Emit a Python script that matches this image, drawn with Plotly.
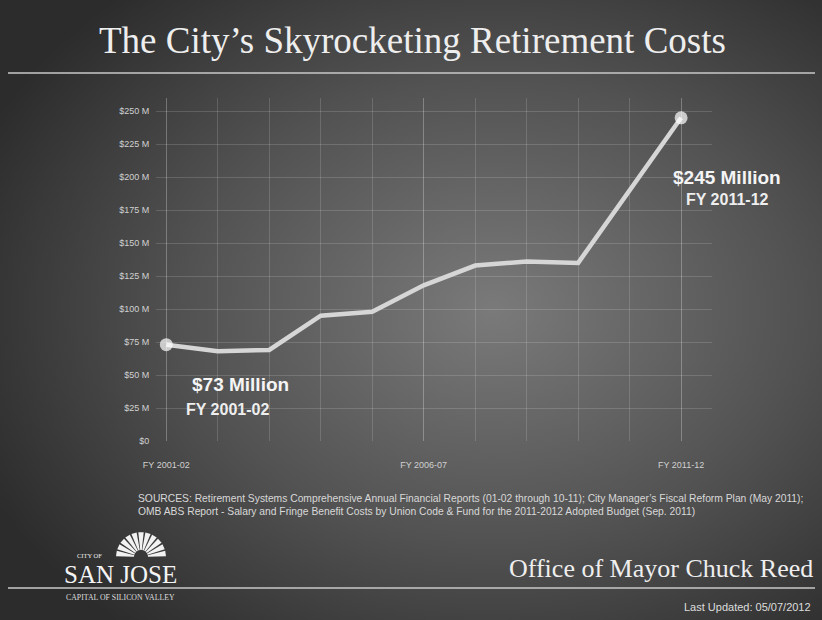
import math
import urllib.parse
import plotly.graph_objects as go

# ---------------- data ----------------
years = ["FY 2001-02", "FY 2002-03", "FY 2003-04", "FY 2004-05", "FY 2005-06",
         "FY 2006-07", "FY 2007-08", "FY 2008-09", "FY 2009-10", "FY 2010-11",
         "FY 2011-12"]
costs_musd = [73, 68, 69, 95, 98, 118, 133, 136, 135, 190, 245]
x_tick_idx = [0, 5, 10]
x_tick_labels = ["FY 2001-02", "FY 2006-07", "FY 2011-12"]
y_tick_vals = [0, 25, 50, 75, 100, 125, 150, 175, 200, 225, 250]
y_tick_labels = ["$0", "$25 M", "$50 M", "$75 M", "$100 M", "$125 M", "$150 M",
                 "$175 M", "$200 M", "$225 M", "$250 M"]

# ---------------- layout geometry (pixels) ----------------
W, H = 822, 620
L, R, T, B = 156, 110, 98, 179
PW, PH = W - L - R, H - T - B


def px(x):
    return (x - L) / PW


def py(y):
    return (H - B - y) / PH


xs = list(range(len(years)))
msize = [13 if i in (0, len(xs) - 1) else 0 for i in xs]

fig = go.Figure()
fig.add_trace(go.Scatter(
    x=xs, y=costs_musd, mode="lines+markers",
    line=dict(color="#d6d6d6", width=4.5),
    marker=dict(size=msize, color="#ffffff", line=dict(width=0)),
    hoverinfo="skip", showlegend=False))

# background gradient (svg)
svg = ("<svg xmlns='http://www.w3.org/2000/svg' width='822' height='620'>"
       "<defs><radialGradient id='g' cx='60%' cy='50%' r='68%'>"
       "<stop offset='0%' stop-color='#7a7a7a'/>"
       "<stop offset='55%' stop-color='#525252'/>"
       "<stop offset='100%' stop-color='#2c2c2c'/>"
       "</radialGradient></defs>"
       "<rect width='822' height='620' fill='url(#g)'/></svg>")
src = "data:image/svg+xml;charset=utf-8," + urllib.parse.quote(svg)

fig.add_layout_image(dict(source=src, xref="paper", yref="paper",
                          x=px(0), y=py(0), sizex=W / PW, sizey=H / PH,
                          xanchor="left", yanchor="top", sizing="stretch",
                          layer="below"))

shapes = []
# title rule and footer rule
shapes.append(dict(type="line", xref="paper", yref="paper",
                   x0=px(8), x1=px(815), y0=py(73), y1=py(73),
                   line=dict(color="#c8c8c8", width=1.5)))
shapes.append(dict(type="line", xref="paper", yref="paper",
                   x0=px(8), x1=px(815), y0=py(588), y1=py(588),
                   line=dict(color="#c8c8c8", width=1.5)))

# San Jose sun emblem
cx, cy, r0, r1 = 141, 557, 7, 25
nr = 11
for i in range(nr):
    a0 = math.pi * (i + 0.12) / nr
    a1 = math.pi * (i + 0.88) / nr
    pts = [(cx + r0 * math.cos(a0), cy - r0 * math.sin(a0)),
           (cx + r1 * math.cos(a0), cy - r1 * math.sin(a0)),
           (cx + r1 * math.cos(a1), cy - r1 * math.sin(a1)),
           (cx + r0 * math.cos(a1), cy - r0 * math.sin(a1))]
    path = "M " + " L ".join(f"{px(a):.5f},{py(b):.5f}" for a, b in pts) + " Z"
    shapes.append(dict(type="path", xref="paper", yref="paper", path=path,
                       fillcolor="#f2f2f2", line=dict(width=0)))

ann = []


def text(x, y, s, size, color="#f0f0f0", family="Liberation Sans", anchor="center",
         bold=False):
    ann.append(dict(x=px(x), y=py(y), xref="paper", yref="paper",
                    text=(f"<b>{s}</b>" if bold else s),
                    showarrow=False, xanchor=anchor, yanchor="middle",
                    font=dict(size=size, color=color, family=family)))


text(412, 40, "The City\u2019s Skyrocketing Retirement Costs", 37, "#eeeeee",
     "Liberation Serif")
text(240, 384, "$73 Million", 19, "#f4f4f4", bold=True)
text(227, 409, "FY 2001-02", 16, "#eeeeee", bold=True)
text(727, 177, "$245 Million", 19, "#f4f4f4", bold=True)
text(727, 199, "FY 2011-12", 16, "#eeeeee", bold=True)
text(136, 498, "SOURCES: Retirement Systems Comprehensive Annual Financial Reports (01-02 through 10-11); "
     "City Manager\u2019s Fiscal Reform Plan (May 2011);", 10.3, "#d8d8d8", anchor="left")
text(136, 511, "OMB ABS Report - Salary and Fringe Benefit Costs by Union Code &amp; Fund for the "
     "2011-2012 Adopted Budget (Sep. 2011)", 10.3, "#d8d8d8", anchor="left")
text(815, 568, "Office of Mayor Chuck Reed", 26, "#eeeeee", "Liberation Serif", anchor="right")
text(813, 607, "Last Updated: 05/07/2012", 11, "#dddddd", anchor="right")
text(89, 555, "CITY OF", 6.5, "#eeeeee", "Liberation Serif")
text(120, 574, "SAN JOSE", 25, "#f4f4f4", "Liberation Serif")
text(120, 597, "CAPITAL OF SILICON VALLEY", 7.8, "#dddddd", "Liberation Serif")

grid = "rgba(255,255,255,0.15)"
fig.update_layout(
    width=W, height=H,
    margin=dict(l=L, r=R, t=T, b=B),
    paper_bgcolor="#4a4a4a",
    plot_bgcolor="rgba(0,0,0,0)",
    shapes=shapes,
    annotations=ann,
    xaxis=dict(range=[-0.2, 10.6], tickmode="array", tickvals=x_tick_idx,
               ticktext=x_tick_labels, showgrid=True,
               gridcolor=grid, zeroline=False,
               minor=dict(tickmode="linear", tick0=0, dtick=1, showgrid=True,
                          gridcolor=grid),
               ticks="outside", ticklen=15, tickcolor="rgba(0,0,0,0)",
               tickfont=dict(size=9, color="#d0d0d0", family="Liberation Sans"),
               showline=False, fixedrange=True),
    yaxis=dict(range=[0, 260], tickmode="array", tickvals=y_tick_vals,
               ticktext=y_tick_labels, showgrid=True,
               gridcolor=grid, zeroline=False,
               ticks="outside", ticklen=4, tickcolor="rgba(0,0,0,0)",
               tickfont=dict(size=9, color="#d0d0d0", family="Liberation Sans"),
               showline=False, fixedrange=True),
)

fig.write_html("out.html", config={"displayModeBar": False},
               post_script="document.body.style.margin='0';")
